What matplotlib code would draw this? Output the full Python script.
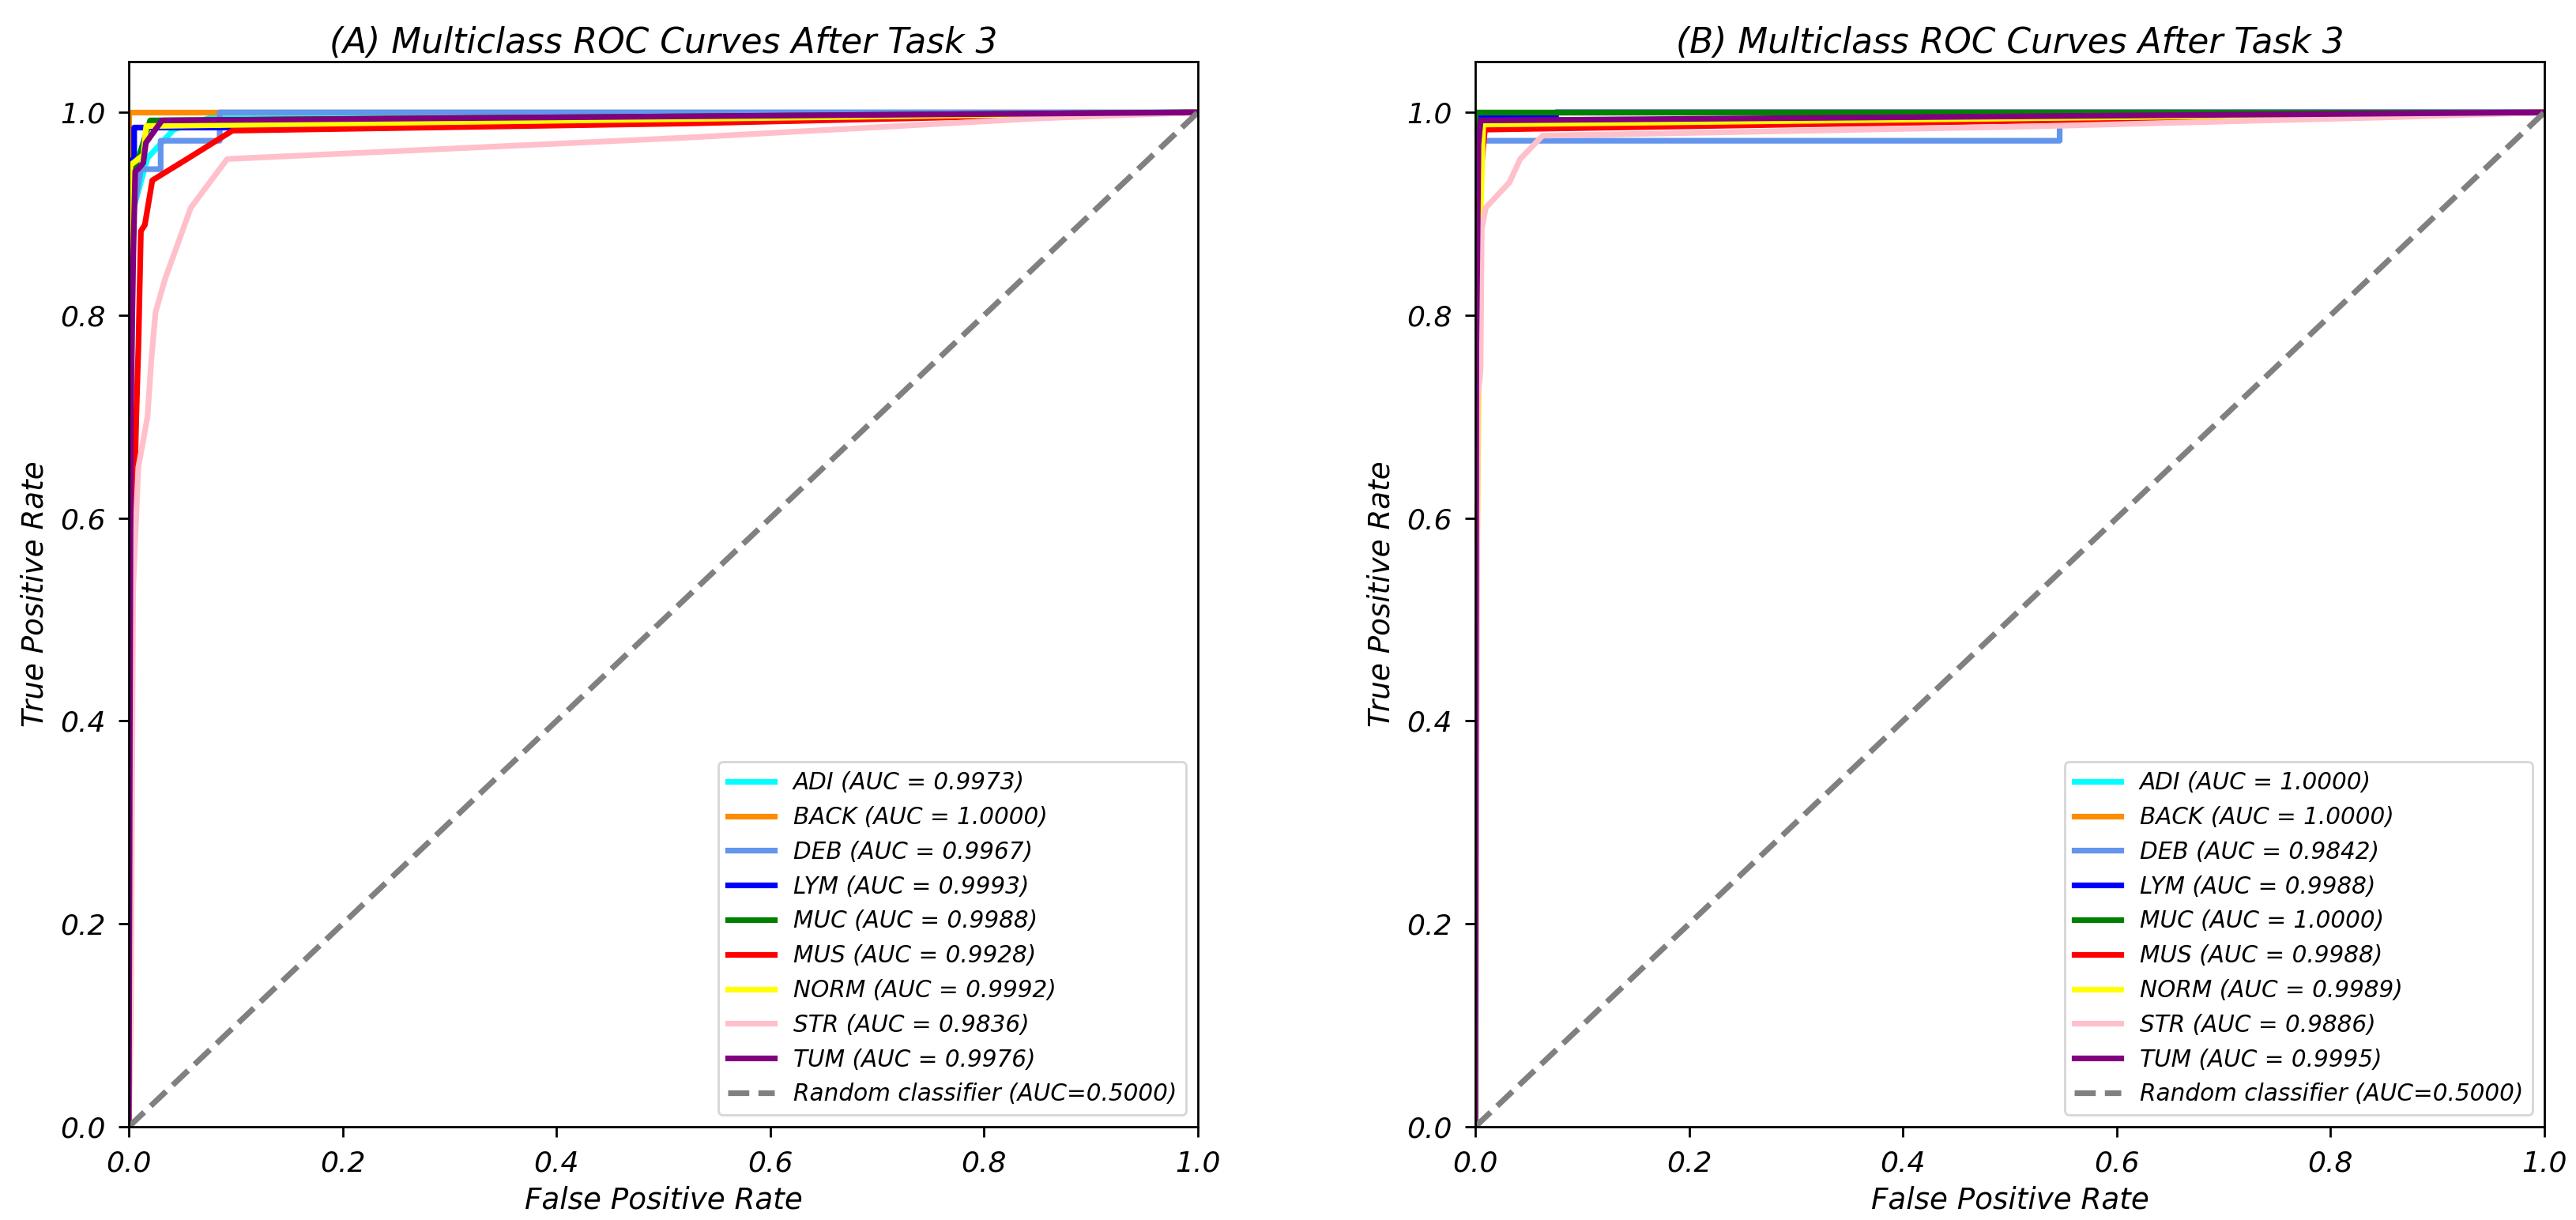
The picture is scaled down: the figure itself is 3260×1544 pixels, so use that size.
import matplotlib
matplotlib.use("Agg")
import matplotlib.pyplot as plt

plt.rcParams['font.family'] = ['DejaVu Sans']
plt.rcParams['font.style'] = 'italic'

classes = ['ADI', 'BACK', 'DEB', 'LYM', 'MUC', 'MUS', 'NORM', 'STR', 'TUM']
auc_a = [0.9973, 1.0000, 0.9967, 0.9993, 0.9988, 0.9928, 0.9992, 0.9836, 0.9976]
auc_b = [1.0000, 1.0000, 0.9842, 0.9988, 1.0000, 0.9988, 0.9989, 0.9886, 0.9995]
random_auc = 0.5000

# ---- panel A curves ----
a_adi_fpr = [0, 0.001, 0.003, 0.0175, 0.042, 0.08, 1]
a_adi_tpr = [0, 0.5, 0.9, 0.955, 0.983, 0.996, 1]
a_back_fpr = [0, 0, 1]
a_back_tpr = [0, 1, 1]
a_deb_fpr = [0, 0.001, 0.004, 0.0113, 0.0298, 0.0298, 0.085, 0.085, 1]
a_deb_tpr = [0, 0.5, 0.9, 0.944, 0.944, 0.972, 0.972, 1.0, 1]
a_lym_fpr = [0, 0.001, 0.003, 0.005, 0.005, 0.09, 1]
a_lym_tpr = [0, 0.7, 0.953, 0.953, 0.985, 0.985, 1]
a_muc_fpr = [0, 0.001, 0.003, 0.01, 0.02, 1]
a_muc_tpr = [0, 0.6, 0.94, 0.958, 0.992, 1]
a_mus_fpr = [0, 0.001, 0.0035, 0.007, 0.009, 0.0113, 0.015, 0.022, 0.056, 0.097, 0.52, 0.85, 1]
a_mus_tpr = [0, 0.3, 0.545, 0.70, 0.77, 0.883, 0.889, 0.933, 0.955, 0.982, 0.989, 0.997, 1]
a_norm_fpr = [0, 0.0005, 0.001, 0.0015, 0.0138, 0.0163, 1]
a_norm_tpr = [0, 0.6, 0.85, 0.948, 0.958, 0.9865, 1]
a_str_fpr = [0, 0.002, 0.004, 0.0089, 0.0175, 0.021, 0.025, 0.034, 0.058, 0.092, 0.52, 0.85, 1]
a_str_tpr = [0, 0.1, 0.53, 0.65, 0.70, 0.755, 0.803, 0.836, 0.906, 0.954, 0.975, 0.994, 1]
a_tum_fpr = [0, 0.001, 0.002, 0.004, 0.006, 0.0086, 0.0135, 0.016, 0.031, 1]
a_tum_tpr = [0, 0.4, 0.72, 0.85, 0.942, 0.944, 0.950, 0.970, 0.992, 1]

# ---- panel B curves ----
b_adi_fpr = [0, 0, 1]
b_adi_tpr = [0, 1, 1]
b_back_fpr = [0, 0, 1]
b_back_tpr = [0, 1, 1]
b_deb_fpr = [0, 0.001, 0.004, 0.0074, 0.5466, 0.5466, 1]
b_deb_tpr = [0, 0.6, 0.95, 0.972, 0.972, 0.99, 1]
b_lym_fpr = [0, 0.001, 0.002, 0.0755, 0.0755, 1]
b_lym_tpr = [0, 0.9, 0.995, 0.995, 1.0, 1]
b_muc_fpr = [0, 0, 1]
b_muc_tpr = [0, 1, 1]
b_mus_fpr = [0, 0.001, 0.003, 0.006, 0.009, 1]
b_mus_tpr = [0, 0.55, 0.9, 0.95, 0.983, 1]
b_norm_fpr = [0, 0.001, 0.003, 0.005, 0.0074, 1]
b_norm_tpr = [0, 0.5, 0.7, 0.9, 0.988, 1]
b_str_fpr = [0, 0.0015, 0.002, 0.0025, 0.0049, 0.006, 0.0098, 0.032, 0.042, 0.063, 0.515, 0.85, 1]
b_str_tpr = [0, 0.45, 0.62, 0.72, 0.745, 0.885, 0.906, 0.931, 0.954, 0.977, 0.986, 0.995, 1]
b_tum_fpr = [0, 0.001, 0.003, 0.005, 1]
b_tum_tpr = [0, 0.77, 0.968, 0.992, 1]

colors = ['cyan', 'darkorange', 'cornflowerblue', 'blue', 'green',
          'red', 'yellow', 'pink', 'purple']

curves_a = [(a_adi_fpr, a_adi_tpr), (a_back_fpr, a_back_tpr), (a_deb_fpr, a_deb_tpr),
            (a_lym_fpr, a_lym_tpr), (a_muc_fpr, a_muc_tpr), (a_mus_fpr, a_mus_tpr),
            (a_norm_fpr, a_norm_tpr), (a_str_fpr, a_str_tpr), (a_tum_fpr, a_tum_tpr)]
curves_b = [(b_adi_fpr, b_adi_tpr), (b_back_fpr, b_back_tpr), (b_deb_fpr, b_deb_tpr),
            (b_lym_fpr, b_lym_tpr), (b_muc_fpr, b_muc_tpr), (b_mus_fpr, b_mus_tpr),
            (b_norm_fpr, b_norm_tpr), (b_str_fpr, b_str_tpr), (b_tum_fpr, b_tum_tpr)]

W, H = 3260, 1544
fig = plt.figure(figsize=(W / 200, H / 200), dpi=200)
ax_a = fig.add_axes([163 / W, 118 / H, 1353 / W, 1348 / H])
ax_b = fig.add_axes([1867 / W, 118 / H, 1353 / W, 1348 / H])


def draw_panel(ax, curves, aucs, title):
    for (fpr, tpr), name, auc, c in zip(curves, classes, aucs, colors):
        ax.plot(fpr, tpr, color=c, lw=2.6, label=f'{name} (AUC = {auc:.4f})')
    ax.plot([0, 1], [0, 1], color='gray', lw=2.6, linestyle='--',
            label=f'Random classifier (AUC={random_auc:.4f})')
    ax.set_xlim(0, 1.0)
    ax.set_ylim(0, 1.05)
    ax.set_xticks([0, 0.2, 0.4, 0.6, 0.8, 1.0])
    ax.set_yticks([0, 0.2, 0.4, 0.6, 0.8, 1.0])
    ax.tick_params(labelsize=13, length=4.7, width=1.0, pad=5.8)
    for s in ax.spines.values():
        s.set_linewidth(1.0)
    ax.set_xlabel('False Positive Rate', fontsize=13.4, labelpad=4)
    ax.set_ylabel('True Positive Rate', fontsize=13.4, labelpad=5)
    ax.set_title(title, fontsize=15.8, pad=4)
    ax.legend(loc='lower right', fontsize=10.65)


draw_panel(ax_a, curves_a, auc_a, '(A) Multiclass ROC Curves After Task 3')
draw_panel(ax_b, curves_b, auc_b, '(B) Multiclass ROC Curves After Task 3')

fig.savefig('out.png', dpi=200)
